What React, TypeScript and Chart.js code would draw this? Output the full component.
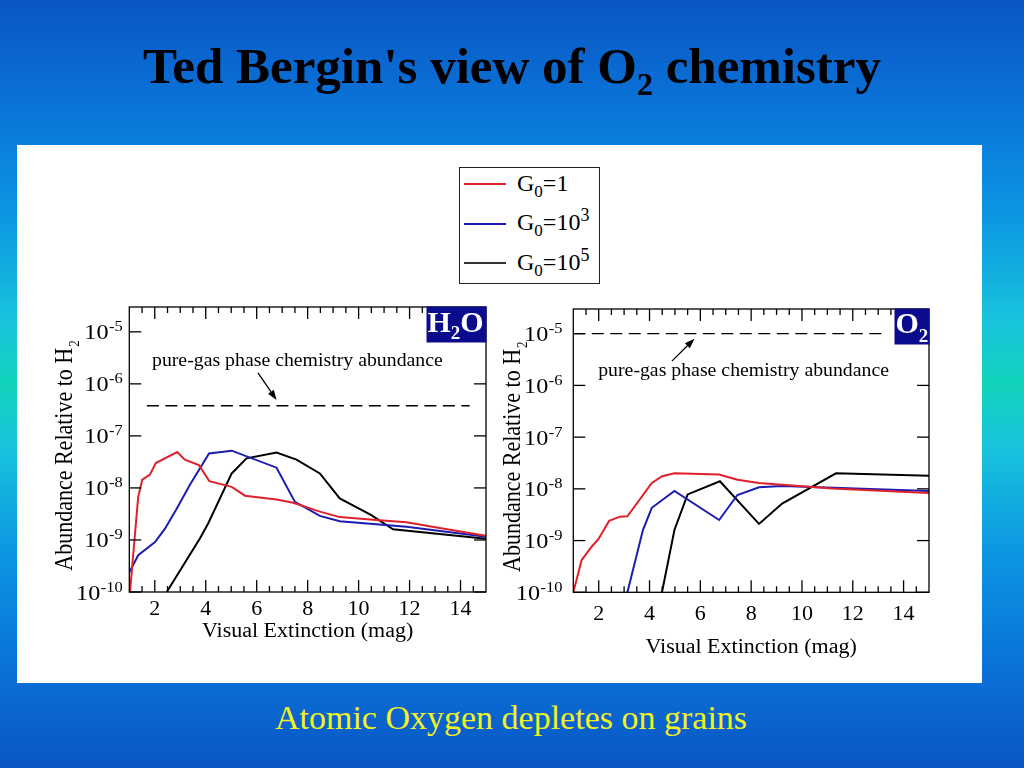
import React, { useEffect, useRef } from "react";
import { Chart, registerables } from "chart.js";

Chart.register(...registerables);

const SERIF = "'Liberation Serif', 'Times New Roman', serif";

// ---- axes ----
const X_MIN = 1;
const X_MAX = 15;
const Y_MIN = 1e-10;
const Y_MAX = 3e-5;
const X_TICK_LABELS = [2, 4, 6, 8, 10, 12, 14];
const X_MINOR_STEP = 0.5;
const Y_TICK_EXPONENTS = [-10, -9, -8, -7, -6, -5];
const X_TITLE = "Visual Extinction (mag)";
const Y_TITLE = "Abundance Relative to H";
const Y_TITLE_SUB = "2";

// ---- series ----
const SERIES_NAMES = ["G\u2080=1", "G\u2080=10\u00b3", "G\u2080=10\u2075"];
const SERIES_EXPONENTS = [0, 3, 5];
const SERIES_COLORS = ["#e0202a", "#1c1cb0", "#000000"];

// H2O panel
const H2O_G1_AV = [1.0, 1.35, 1.51, 1.81, 2.04, 2.88, 3.18, 3.73, 4.14, 5.02, 5.54, 6.78, 7.43, 8.48, 9.26, 10.57, 11.88, 13.18, 15];
const H2O_G1 = [7e-11, 6.8e-9, 1.45e-8, 1.8e-8, 3.0e-8, 4.9e-8, 3.5e-8, 2.75e-8, 1.35e-8, 1.05e-8, 7.1e-9, 6.0e-9, 5.2e-9, 3.5e-9, 2.75e-9, 2.45e-9, 2.2e-9, 1.7e-9, 1.2e-9];
const H2O_G3_AV = [1.0, 1.35, 2.01, 2.4, 2.86, 3.38, 4.13, 5.02, 6.78, 7.5, 8.48, 9.26, 11.88, 15];
const H2O_G3 = [2.4e-10, 5.1e-10, 9.1e-10, 1.65e-9, 4.0e-9, 1.15e-8, 4.6e-8, 5.2e-8, 2.45e-8, 5.4e-9, 2.9e-9, 2.3e-9, 1.8e-9, 1.15e-9];
const H2O_G5_AV = [2.47, 3.77, 4.1, 5.02, 5.6, 6.78, 7.56, 8.48, 9.26, 10.5, 11.35, 15];
const H2O_G5 = [1e-10, 1.07e-9, 2.1e-9, 1.9e-8, 3.7e-8, 4.8e-8, 3.5e-8, 1.9e-8, 6.3e-9, 3.0e-9, 1.6e-9, 1.05e-9];
const H2O_GAS_PHASE = 3.8e-7;
const H2O_GAS_FROM = 1.69;
const H2O_GAS_TO = 14.36;

// O2 panel
const O2_G1_AV = [1.0, 1.33, 1.72, 1.98, 2.41, 2.83, 3.13, 4.09, 4.5, 4.98, 6.74, 7.46, 8.31, 11.18, 15];
const O2_G1 = [1e-10, 4.2e-10, 7.6e-10, 1.05e-9, 2.4e-9, 2.9e-9, 2.95e-9, 1.3e-8, 1.75e-8, 2.0e-8, 1.9e-8, 1.5e-8, 1.3e-8, 1.02e-8, 8.3e-9];
const O2_G3_AV = [3.13, 3.74, 4.09, 4.98, 6.74, 7.46, 8.31, 9.22, 15];
const O2_G3 = [1e-10, 1.6e-9, 4.3e-9, 9.1e-9, 2.5e-9, 7.6e-9, 1.07e-8, 1.13e-8, 9.1e-9];
const O2_G5_AV = [4.49, 4.98, 5.5, 6.77, 8.31, 9.22, 11.34, 15];
const O2_G5 = [1e-10, 1.6e-9, 7.8e-9, 1.4e-8, 2.1e-9, 5.2e-9, 2.0e-8, 1.8e-8];
const O2_GAS_PHASE = 1e-5;
const O2_GAS_FROM = 1.0;
const O2_GAS_TO = 13.3;

const NOTE_TEXT = "pure-gas phase chemistry abundance";

type Cfg = {
  left: number; top: number; width: number; height: number;
  padding: { left: number; right: number; top: number; bottom: number };
  series: { x: number[]; y: number[] }[];
  gas: number; gasFrom: number; gasTo: number;
  species: string; speciesSub: string; speciesTail: string; boxW: number;
  speciesBase: number; speciesSubBase: number;
  noteX: number; noteY: number;
  arrow: [number, number, number, number];
  yLabelGap: number; xLabelDy: number; xTitleDy: number; yTitleDx: number;
};

const H2O_PLOT: Cfg = {
  left: 40, top: 295, width: 460, height: 365,
  padding: { left: 89.3, right: 14, top: 12, bottom: 68 },
  series: [
    { x: H2O_G1_AV, y: H2O_G1 },
    { x: H2O_G3_AV, y: H2O_G3 },
    { x: H2O_G5_AV, y: H2O_G5 },
  ],
  gas: H2O_GAS_PHASE, gasFrom: H2O_GAS_FROM, gasTo: H2O_GAS_TO,
  species: "H", speciesSub: "2", speciesTail: "O", boxW: 60,
  speciesBase: 25, speciesSubBase: 32,
  noteX: 1.89, noteY: 2.24e-6,
  arrow: [6.05, 1.63e-6, 6.78, 4.9e-7],
  yLabelGap: -6.5, xLabelDy: 23, xTitleDy: 45, yTitleDx: -57.5,
};

const O2_PLOT: Cfg = {
  left: 500, top: 295, width: 460, height: 375,
  padding: { left: 73.3, right: 31, top: 14, bottom: 77.7 },
  series: [
    { x: O2_G1_AV, y: O2_G1 },
    { x: O2_G3_AV, y: O2_G3 },
    { x: O2_G5_AV, y: O2_G5 },
  ],
  gas: O2_GAS_PHASE, gasFrom: O2_GAS_FROM, gasTo: O2_GAS_TO,
  species: "O", speciesSub: "2", speciesTail: "", boxW: 35,
  speciesBase: 24, speciesSubBase: 33,
  noteX: 1.98, noteY: 1.5e-6,
  arrow: [4.88, 2.95e-6, 5.77, 8e-6],
  yLabelGap: -10.8, xLabelDy: 28, xTitleDy: 61, yTitleDx: -53.5,
};

const SX = 1.1;

function drawText(ctx: CanvasRenderingContext2D, s: string, x: number, y: number, font: string, align: CanvasTextAlign, sx: number) {
  ctx.save();
  ctx.font = font;
  ctx.textAlign = align;
  ctx.textBaseline = "alphabetic";
  ctx.translate(x, y);
  ctx.scale(sx, 1);
  ctx.fillText(s, 0, 0);
  ctx.restore();
}

function makeDecor(cfg: Cfg) {
  return {
    id: "decor",
    afterDraw(chart: any) {
      const ctx: CanvasRenderingContext2D = chart.ctx;
      const { left, right, top, bottom } = chart.chartArea;
      const xs = chart.scales.x;
      const ys = chart.scales.y;
      ctx.save();
      ctx.strokeStyle = "#000";
      ctx.fillStyle = "#000";
      ctx.lineWidth = 1.3;
      const seg = (a: number, b: number, c: number, d: number) => {
        ctx.beginPath(); ctx.moveTo(a, b); ctx.lineTo(c, d); ctx.stroke();
      };
      // x ticks (inside, top and bottom)
      for (let v = X_MIN + X_MINOR_STEP; v < X_MAX - 1e-9; v += X_MINOR_STEP) {
        const px = xs.getPixelForValue(v);
        const len = X_TICK_LABELS.includes(v) ? 12 : 6;
        seg(px, bottom, px, bottom - len);
        seg(px, top, px, top + len);
      }
      // y ticks (inside, left and right)
      for (const e of Y_TICK_EXPONENTS) {
        const py = ys.getPixelForValue(Math.pow(10, e));
        seg(left, py, left + 12, py);
        seg(right, py, right - 12, py);
      }
      // frame
      ctx.strokeRect(left, top, right - left, bottom - top);

      // y tick labels 10^e
      for (const e of Y_TICK_EXPONENTS) {
        const py = ys.getPixelForValue(Math.pow(10, e));
        const sup = String(e);
        ctx.font = `15px ${SERIF}`;
        const ws = ctx.measureText(sup).width * SX;
        ctx.font = `22px ${SERIF}`;
        const wb = ctx.measureText("10").width * SX;
        const rx = left + cfg.yLabelGap;
        drawText(ctx, sup, rx - ws, py - 0.5, `15px ${SERIF}`, "left", SX);
        drawText(ctx, "10", rx - ws - wb - 0.5, py + 7.5, `22px ${SERIF}`, "left", SX);
      }
      // x tick labels
      for (const v of X_TICK_LABELS) {
        const px = xs.getPixelForValue(v);
        drawText(ctx, String(v), px, bottom + cfg.xLabelDy, `20px ${SERIF}`, "center", SX);
      }
      // x title
      drawText(ctx, X_TITLE, (left + right) / 2, bottom + cfg.xTitleDy, `20px ${SERIF}`, "center", SX);
      // y title
      ctx.save();
      ctx.translate(left + cfg.yTitleDx, (top + bottom) / 2 + 6);
      ctx.rotate(-Math.PI / 2);
      ctx.scale(1, 1.15);
      ctx.font = `22px ${SERIF}`;
      const wm = ctx.measureText(Y_TITLE).width;
      ctx.font = `13px ${SERIF}`;
      const w2 = ctx.measureText(Y_TITLE_SUB).width;
      const tot = wm + w2 + 1;
      ctx.textBaseline = "alphabetic";
      ctx.textAlign = "left";
      ctx.font = `22px ${SERIF}`;
      ctx.fillText(Y_TITLE, -tot / 2, 0);
      ctx.font = `13px ${SERIF}`;
      ctx.fillText(Y_TITLE_SUB, -tot / 2 + wm + 1, 6.5);
      ctx.restore();

      // note text
      drawText(ctx, NOTE_TEXT, xs.getPixelForValue(cfg.noteX), ys.getPixelForValue(cfg.noteY), `18px ${SERIF}`, "left", SX);
      // arrow
      const [ax0, ay0, ax1, ay1] = cfg.arrow;
      const x0 = xs.getPixelForValue(ax0), y0 = ys.getPixelForValue(ay0);
      const x1 = xs.getPixelForValue(ax1), y1 = ys.getPixelForValue(ay1);
      const ang = Math.atan2(y1 - y0, x1 - x0);
      const hl = 10, hw = 3.5;
      const bx = x1 - hl * Math.cos(ang), by = y1 - hl * Math.sin(ang);
      seg(x0, y0, bx, by);
      ctx.beginPath();
      ctx.moveTo(x1, y1);
      ctx.lineTo(bx + hw * Math.sin(ang), by - hw * Math.cos(ang));
      ctx.lineTo(bx - hw * Math.sin(ang), by + hw * Math.cos(ang));
      ctx.closePath();
      ctx.fill();

      // species box
      const bxL = right - cfg.boxW + 0.5;
      ctx.fillStyle = "#0b0b8e";
      ctx.fillRect(bxL, top - 0.5, cfg.boxW, 36);
      ctx.fillStyle = "#fff";
      ctx.textAlign = "left";
      ctx.textBaseline = "alphabetic";
      ctx.font = `bold 30px ${SERIF}`;
      let cx = bxL + 1;
      ctx.fillText(cfg.species, cx, top + cfg.speciesBase);
      cx += ctx.measureText(cfg.species).width;
      ctx.font = `bold 19px ${SERIF}`;
      ctx.fillText(cfg.speciesSub, cx, top + cfg.speciesSubBase);
      cx += ctx.measureText(cfg.speciesSub).width;
      if (cfg.speciesTail) {
        ctx.font = `bold 30px ${SERIF}`;
        ctx.fillText(cfg.speciesTail, cx, top + cfg.speciesBase);
      }
      ctx.restore();
    },
  };
}

function PlotCanvas({ cfg }: { cfg: Cfg }) {
  const ref = useRef<HTMLCanvasElement | null>(null);
  useEffect(() => {
    if (!ref.current) return;
    const datasets: any[] = cfg.series.map((s, i) => ({
      label: SERIES_NAMES[i],
      data: s.x.map((x, j) => ({ x, y: s.y[j] })),
      borderColor: SERIES_COLORS[i],
      borderWidth: 2,
      pointRadius: 0,
      tension: 0,
      fill: false,
      clip: 0,
    }));
    datasets.push({
      label: "pure-gas phase",
      data: [
        { x: cfg.gasFrom, y: cfg.gas },
        { x: cfg.gasTo, y: cfg.gas },
      ],
      borderColor: "#000",
      borderWidth: 1.3,
      borderDash: [12, 6.5],
      pointRadius: 0,
      fill: false,
      clip: 0,
    });
    const chart = new Chart(ref.current, {
      type: "line",
      data: { datasets },
      options: {
        animation: false,
        responsive: false,
        maintainAspectRatio: false,
        events: [],
        layout: { padding: cfg.padding },
        plugins: { legend: { display: false }, tooltip: { enabled: false } },
        scales: {
          x: { type: "linear", min: X_MIN, max: X_MAX, display: false },
          y: { type: "logarithmic", min: Y_MIN, max: Y_MAX, display: false },
        },
      } as any,
      plugins: [makeDecor(cfg) as any],
    });
    return () => chart.destroy();
  }, [cfg]);
  return (
    <canvas
      ref={ref}
      width={cfg.width}
      height={cfg.height}
      style={{ position: "absolute", left: cfg.left, top: cfg.top, width: cfg.width, height: cfg.height }}
    />
  );
}

const BG =
  "linear-gradient(180deg, #0a56c4 0%, #0a74d8 14%, #0c96e2 28%, #18c4dc 42%, #12d4bc 50%, #18c4dc 58%, #0c96e2 72%, #0a74d8 86%, #0a56c4 100%)";

const LEGEND_LINE_TOP = 183;
const LEGEND_STEP = 39.5;

export default function App() {
  return (
    <div style={{ position: "fixed", left: 0, top: 0, width: 1024, height: 768, background: BG, overflow: "hidden", fontFamily: SERIF }}>
      <div
        style={{
          position: "absolute", left: 0, top: 40.6, width: 1024, textAlign: "center",
          font: `bold 51px ${SERIF}`, lineHeight: "51px", color: "#000", whiteSpace: "nowrap",
        }}
      >
        Ted Bergin's view of O
        <span style={{ fontSize: 32, position: "relative", top: 12, lineHeight: 0 }}>2</span> chemistry
      </div>
      <div style={{ position: "absolute", left: 17, top: 145, width: 965, height: 538, background: "#fff" }} />
      <div
        style={{
          position: "absolute", left: 459, top: 167, width: 141, height: 117,
          border: "1.5px solid #222", boxSizing: "border-box", background: "#fff",
        }}
      />
      {SERIES_NAMES.map((name, i) => (
        <React.Fragment key={name}>
          <div
            style={{
              position: "absolute", left: 464, top: Math.round(LEGEND_LINE_TOP + i * LEGEND_STEP),
              width: 42, height: 2, background: SERIES_COLORS[i] === "#000000" ? "#333" : SERIES_COLORS[i],
            }}
          />
          <div
            aria-label={name}
            style={{
              position: "absolute", left: 517, top: LEGEND_LINE_TOP - 12.4 + i * LEGEND_STEP,
              font: `24px ${SERIF}`, lineHeight: "24px", whiteSpace: "nowrap", color: "#000",
            }}
          >
            G<span style={{ fontSize: 17, position: "relative", top: 6, lineHeight: 0 }}>0</span>=
            {SERIES_EXPONENTS[i] === 0 ? (
              "1"
            ) : (
              <>
                10
                <span style={{ fontSize: 18, position: "relative", top: -9, lineHeight: 0 }}>{SERIES_EXPONENTS[i]}</span>
              </>
            )}
          </div>
        </React.Fragment>
      ))}
      <PlotCanvas cfg={H2O_PLOT} />
      <PlotCanvas cfg={O2_PLOT} />
      <div
        style={{
          position: "absolute", left: 0, top: 700.8, width: 1022, textAlign: "center",
          font: `34px ${SERIF}`, lineHeight: "34px", color: "#f2f224", whiteSpace: "nowrap",
        }}
      >
        Atomic Oxygen depletes on grains
      </div>
    </div>
  );
}
